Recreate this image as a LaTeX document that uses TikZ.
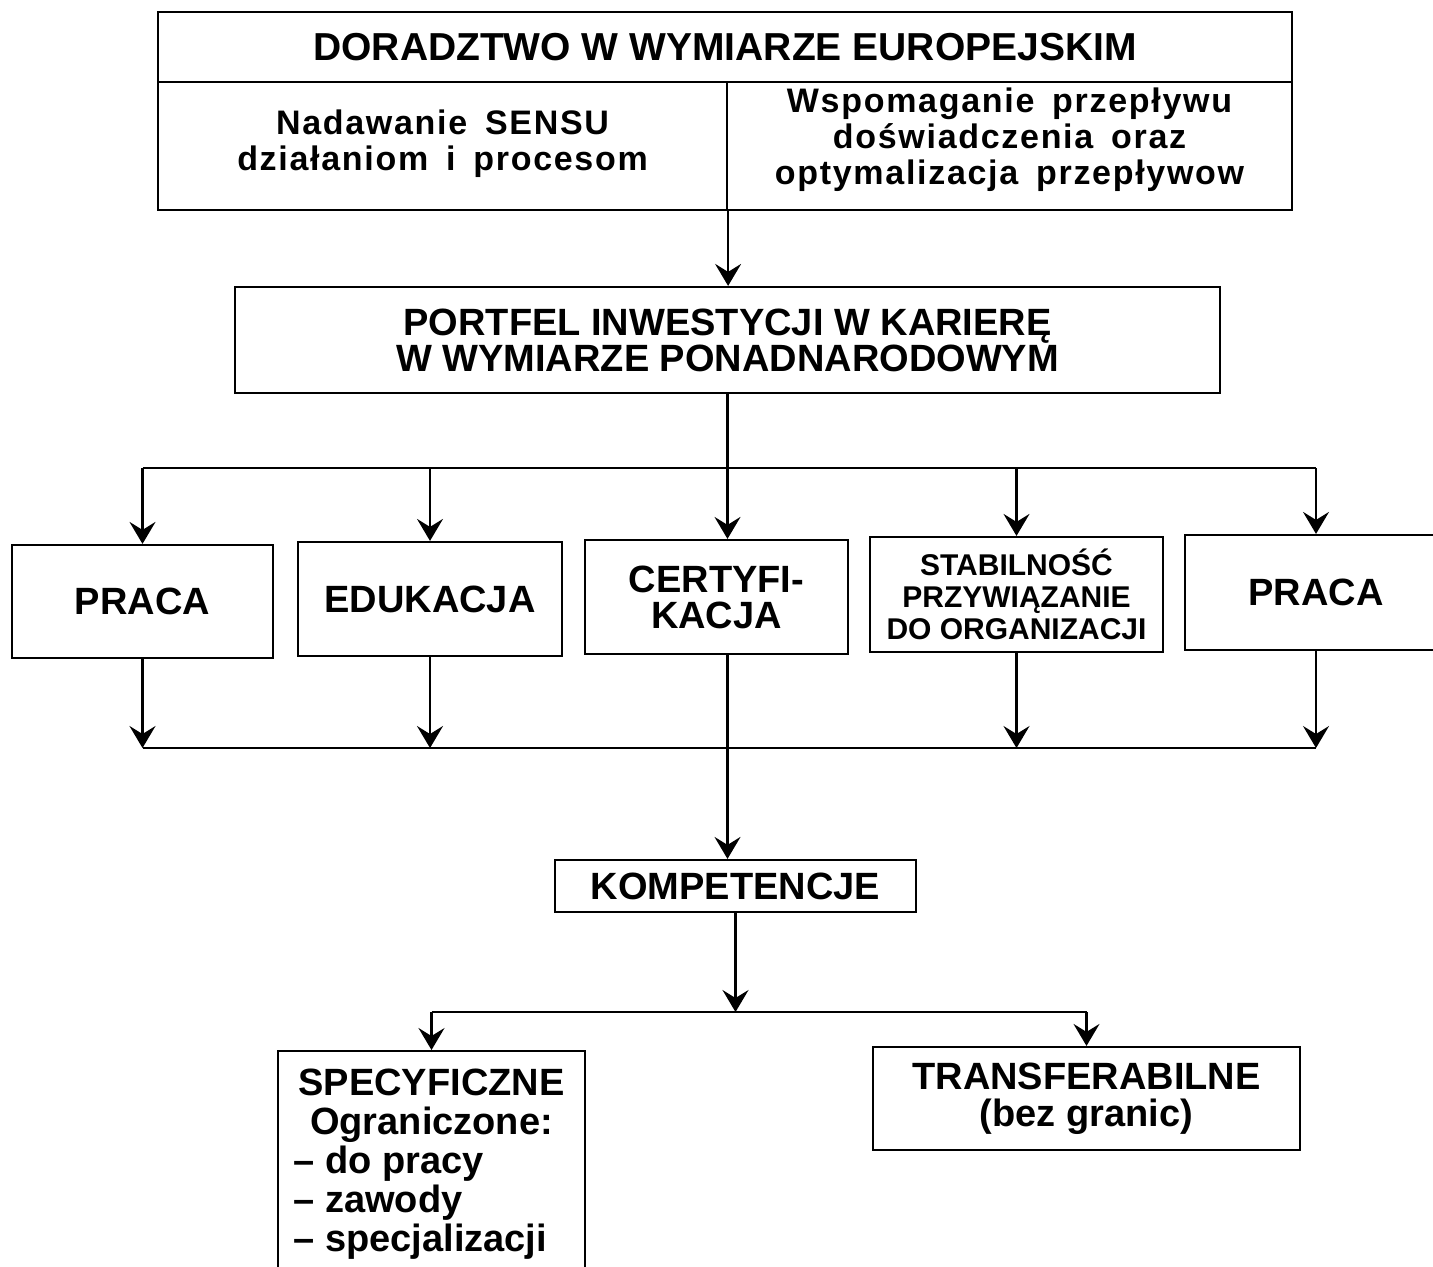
\documentclass[tikz,border=0pt]{standalone}
\usepackage{fontspec}
\setmainfont{Liberation Sans}
\newfontfamily\rozstrzelony[LetterSpace=5, WordSpace=1.6]{Liberation Sans}
\usetikzlibrary{positioning}
\usetikzlibrary{arrows.meta}
\usetikzlibrary{calc}

\tikzset{
  ramka/.style={draw, line width=1.1pt, inner sep=0pt, align=center,
    font=\bfseries\fontsize{19}{18}\selectfont},
  polowa/.style={ramka, minimum height=64pt,
    font=\rozstrzelony\bfseries\fontsize{17}{18}\selectfont},
  strzalka/.style={line width=1.1pt, -{Stealth[length=11pt, width=13pt, inset=4pt]}},
  linia/.style={line width=1.1pt}
}

\begin{document}
\begin{tikzpicture}[x=0.5pt, y=-0.5pt]
  % size of the whole figure
  \useasboundingbox (0,0) rectangle (1433,1266);

  % top box with two halves
  \node[ramka, minimum width=567pt, minimum height=35pt, font=\bfseries\fontsize{19.5}{18}\selectfont] (doradztwo) at (725,47) {DORADZTWO W WYMIARZE EUROPEJSKIM};
  \node[polowa, minimum width=284.5pt, text depth=6pt] (sens) at (442.5,146) {Nadawanie SENSU\\działaniom i procesom};
  \node[polowa, minimum width=282.5pt, text depth=10pt] (przeplyw) at (1009.5,146) {Wspomaganie przepływu\\doświadczenia oraz\\optymalizacja przepływow};

  \node[ramka, minimum width=492.5pt, minimum height=53pt] (portfel) at (727.5,340) {PORTFEL INWESTYCJI W KARIERĘ\\W WYMIARZE PONADNARODOWYM};

  % middle row
  \node[ramka, minimum width=130.5pt, minimum height=56.5pt] (praca1) at (142.5,601.5) {PRACA};
  \node[ramka, minimum width=132pt, minimum height=57pt] (edukacja) at (430,599) {EDUKACJA};
  \node[ramka, minimum width=131.5pt, minimum height=57pt] (cert) at (716.5,597) {CERTYFI-\\KACJA};
  \node[ramka, minimum width=146.5pt, minimum height=57.5pt, font=\bfseries\fontsize{15}{16}\selectfont] (stabilnosc) at (1016.5,594.5) {STABILNOŚĆ\\PRZYWIĄZANIE\\DO ORGANIZACJI};
  \node[ramka, minimum width=131pt, minimum height=57.5pt] (praca2) at (1316,592.5) {PRACA};

  \node[ramka, minimum width=180.5pt, minimum height=26pt] (kompetencje) at (735.5,886) {KOMPETENCJE};

  % bottom row
  \node[ramka, minimum width=153.5pt, inner ysep=9pt, anchor=north, font=\bfseries\fontsize{19}{19.5}\selectfont] (specyficzne) at (431.5,1050)
    {SPECYFICZNE\\Ograniczone:\\\makebox[138pt][l]{– do pracy}\\\makebox[138pt][l]{– zawody}\\\makebox[138pt][l]{– specjalizacji}};
  \node[ramka, minimum width=213.5pt, minimum height=51.5pt, font=\bfseries\fontsize{19}{18.5}\selectfont] (transfer) at (1086.5,1098.5) {TRANSFERABILNE\\(bez granic)};

  % rails
  \coordinate (szyna1) at (730,468);
  \coordinate (szyna2) at (730,748);
  \coordinate (szyna3) at (735,1012);

  \draw[strzalka] (sens.south east) -- (sens.south east |- portfel.north);

  \draw[linia] (praca1.north |- szyna1) -- (praca2.north |- szyna1);
  \draw[strzalka] (portfel.south) -- (portfel.south |- cert.north);
  \foreach \b in {praca1,edukacja,stabilnosc,praca2}
    \draw[strzalka] (\b.north |- szyna1) -- (\b.north);

  \draw[linia] (praca1.south |- szyna2) -- (praca2.south |- szyna2);
  \foreach \b in {praca1,edukacja,stabilnosc,praca2}
    \draw[strzalka] (\b.south) -- (\b.south |- szyna2);
  \draw[strzalka] (portfel.south |- cert.south) -- (portfel.south |- kompetencje.north);

  \draw[strzalka] (kompetencje.south) -- (kompetencje.south |- szyna3);
  \draw[linia] (specyficzne.north |- szyna3) -- (transfer.north |- szyna3);
  \draw[strzalka] (specyficzne.north |- szyna3) -- (specyficzne.north);
  \draw[strzalka] (transfer.north |- szyna3) -- (transfer.north);
\end{tikzpicture}
\end{document}
